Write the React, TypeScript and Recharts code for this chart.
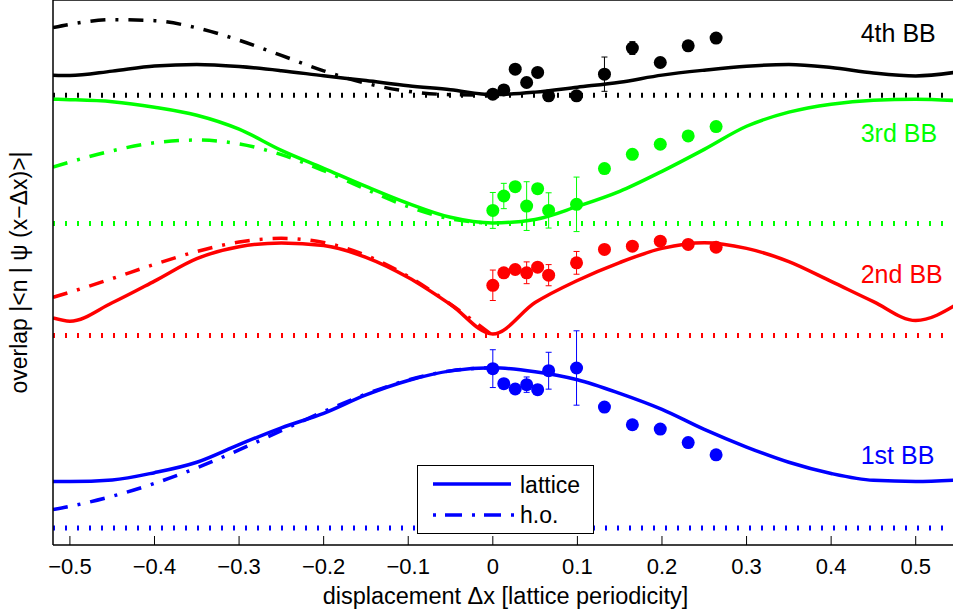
import React from 'react'
import {
    ComposedChart,
    Line,
    Scatter,
    ErrorBar,
    XAxis,
    YAxis,
    ReferenceLine,
    ReferenceDot,
    Legend,
} from 'recharts'

document.body.style.margin = '0'

const FONT = '"Liberation Sans", Arial, Helvetica, sans-serif'

// displacement grid for the theory curves (lattice periods)
const xGrid = [-0.52, -0.5, -0.45, -0.4, -0.35, -0.3, -0.25, -0.2, -0.15, -0.1, -0.05, 0,
    0.05, 0.1, 0.15, 0.2, 0.25, 0.3, 0.35, 0.4, 0.45, 0.5, 0.55]

// lattice overlaps, one list per Bloch band
const lattice1 = [0.29, 0.29, 0.3, 0.345, 0.41, 0.52, 0.625, 0.715, 0.83, 0.92, 0.98, 1.0,
    0.975, 0.925, 0.84, 0.74, 0.615, 0.505, 0.41, 0.34, 0.297, 0.29, 0.3]
const lattice2 = [0.11, 0.09, 0.205, 0.34, 0.48, 0.555, 0.578, 0.562, 0.488, 0.362, 0.194, 0.01,
    0.206, 0.344, 0.456, 0.544, 0.58, 0.544, 0.462, 0.338, 0.212, 0.094, 0.2]
const lattice3 = [0.775, 0.772, 0.759, 0.725, 0.675, 0.588, 0.456, 0.344, 0.231, 0.125, 0.038, 0.003,
    0.025, 0.106, 0.2, 0.325, 0.462, 0.606, 0.694, 0.744, 0.769, 0.775, 0.766]
const lattice4 = [0.125, 0.122, 0.15, 0.182, 0.192, 0.179, 0.153, 0.121, 0.091, 0.059, 0.034, 0.003,
    0.019, 0.05, 0.081, 0.125, 0.156, 0.181, 0.191, 0.172, 0.138, 0.12, 0.145]

// harmonic oscillator overlaps (only drawn for negative displacement)
const hoGrid = [-0.52, -0.5, -0.45, -0.4, -0.35, -0.3, -0.25, -0.2, -0.15, -0.1, -0.05, 0]
const ho1 = [0.115, 0.135, 0.198, 0.278, 0.375, 0.487, 0.607, 0.726, 0.835, 0.923, 0.98, 1.0]
const ho2 = [0.239, 0.271, 0.356, 0.445, 0.525, 0.584, 0.607, 0.581, 0.501, 0.369, 0.196, 0]
const ho3 = [0.352, 0.383, 0.453, 0.503, 0.52, 0.496, 0.429, 0.329, 0.213, 0.104, 0.028, 0]
const ho4 = [0.422, 0.442, 0.471, 0.465, 0.42, 0.343, 0.248, 0.152, 0.074, 0.024, 0.003, 0]

// measurements
const xMeas = [0, 0.013, 0.0265, 0.04, 0.053, 0.066, 0.099, 0.132, 0.165, 0.198, 0.231, 0.264]
const meas1 = [0.994, 0.9, 0.867, 0.894, 0.8625, 0.981, 0.998, 0.754, 0.644, 0.617, 0.533, 0.456]
const err1 = [0.118, 0, 0, 0.048, 0, 0.115, 0.232, 0, 0, 0, 0, 0]
const meas2 = [0.314, 0.392, 0.4125, 0.392, 0.427, 0.377, 0.454, 0.5375, 0.558, 0.589, 0.569, 0.552]
const err2 = [0.095, 0, 0, 0.068, 0, 0.066, 0.071, 0, 0, 0, 0, 0]
const meas3 = [0.081, 0.171, 0.229, 0.108, 0.217, 0.081, 0.119, 0.342, 0.431, 0.494, 0.546, 0.604]
const err3 = [0.112, 0.079, 0, 0.152, 0, 0.11, 0.17, 0, 0, 0, 0, 0]
const meas4 = [0.006, 0.033, 0.1625, 0.079, 0.142, -0.004, -0.004, 0.131, 0.294, 0.204, 0.308, 0.356]
const err4 = [0, 0, 0, 0, 0, 0, 0, 0.107, 0.04, 0, 0, 0]

const bandNames = ['1st BB', '2nd BB', '3rd BB', '4th BB']
const bandOffsets = [0, 1.2, 1.9, 2.7]
const bandColors = ['#0000ff', '#ff0000', '#00ff00', '#000000']
const bandLabelY = [0.453, 1.581, 2.466, 3.0875]

const xTicks = [-0.5, -0.4, -0.3, -0.2, -0.1, 0, 0.1, 0.2, 0.3, 0.4, 0.5]
const yTicks = [0, 0.5, 1, 1.5, 2, 2.5, 3]
const xDomain = [-0.52, 0.55]
const yDomain = [-0.10625, 3.29375]

const lattice = [lattice1, lattice2, lattice3, lattice4]
const ho = [ho1, ho2, ho3, ho4]
const meas = [meas1, meas2, meas3, meas4]
const errs = [err1, err2, err3, err4]

const latticeRows = xGrid.map((x, i) => {
    const row: any = { x }
    lattice.forEach((s, b) => { row['b' + b] = s[i] + bandOffsets[b] })
    return row
})
const hoRows = hoGrid.map((x, i) => {
    const row: any = { x }
    ho.forEach((s, b) => { row['b' + b] = s[i] + bandOffsets[b] })
    return row
})
const measRows = meas.map((s, b) => s.map((v, i) => ({ x: xMeas[i], y: v + bandOffsets[b], err: errs[b][i] })))

const fmtX = (v: number) => (v === 0 ? '0' : (v < 0 ? '\u2212' : '') + Math.abs(v).toFixed(1))

const renderBottomTick = (props: any) => {
    const { x, y, payload } = props
    return (
        <g>
            <line x1={x} x2={x} y1={y} y2={y - 9} stroke="#000" strokeWidth={1} />
            <text x={x} y={y + 29} textAnchor="middle" fontSize={22} fill="#000">{fmtX(payload.value)}</text>
        </g>
    )
}

const renderXTitle = (props: any) => {
    const vb = props.viewBox
    return (
        <text x={vb.x + vb.width / 2} y={vb.y + 59} textAnchor="middle" fontSize={23.5} fill="#000">
            {'displacement \u0394x [lattice periodicity]'}
        </text>
    )
}

const renderYTitle = (props: any) => {
    const vb = props.viewBox
    const cy = vb.y + vb.height / 2
    return (
        <text transform={`translate(27, ${cy}) rotate(-90)`} textAnchor="middle" fontSize={23} fill="#000">
            {'overlap |<n | \u03c8 (x\u2212\u0394x)>|'}
        </text>
    )
}

const renderLegend = () => (
    <svg width={177} height={69} style={{ display: 'block' }}>
        <rect x={0.5} y={0.5} width={176} height={68} fill="#fff" stroke="#000" strokeWidth={1} />
        <line x1={16} x2={94} y1={19} y2={19} stroke="#0000ff" strokeWidth={3.5} />
        <text x={103} y={28} fontSize={23} fill="#000" fontFamily={FONT}>lattice</text>
        <line x1={16} x2={97} y1={50} y2={50} stroke="#0000ff" strokeWidth={3.5} strokeDasharray="3 9 17 10" />
        <text x={103} y={58} fontSize={23} fill="#000" fontFamily={FONT}>h.o.</text>
    </svg>
)

const dotShape = (color: string) => (p: any) => <circle cx={p.cx} cy={p.cy} r={6.5} fill={color} />

export default function App() {
    return (
        <div style={{ width: 953, height: 616, overflow: 'hidden', position: 'relative', fontFamily: FONT }}>
            <ComposedChart width={960} height={616} margin={{ top: 0, right: 2, bottom: 70, left: 53 }}>
                <XAxis
                    dataKey="x"
                    type="number"
                    domain={xDomain}
                    allowDataOverflow
                    ticks={xTicks}
                    interval={0}
                    height={1}
                    tickSize={0}
                    tickMargin={0}
                    tickLine={false}
                    tick={renderBottomTick}
                    axisLine={{ stroke: '#000', strokeWidth: 1.5 }}
                    label={{ content: renderXTitle }}
                />
                <XAxis
                    xAxisId="top"
                    orientation="top"
                    dataKey="x"
                    type="number"
                    domain={xDomain}
                    allowDataOverflow
                    ticks={xTicks}
                    interval={0}
                    height={1}
                    mirror
                    tick={false}
                    tickSize={8}
                    tickLine={{ stroke: '#000' }}
                    axisLine={{ stroke: '#000', strokeWidth: 1.5 }}
                />
                <YAxis
                    type="number"
                    domain={yDomain}
                    allowDataOverflow
                    ticks={yTicks}
                    interval={0}
                    width={1}
                    mirror
                    tick={false}
                    tickSize={9}
                    tickLine={{ stroke: '#000' }}
                    axisLine={{ stroke: '#000', strokeWidth: 1.5 }}
                    label={{ content: renderYTitle }}
                />
                <YAxis
                    yAxisId="right"
                    orientation="right"
                    type="number"
                    domain={yDomain}
                    allowDataOverflow
                    ticks={yTicks}
                    interval={0}
                    width={1}
                    mirror
                    tick={false}
                    tickSize={9}
                    tickLine={{ stroke: '#000' }}
                    axisLine={{ stroke: '#000', strokeWidth: 1.5 }}
                />

                {bandOffsets.map((off, b) => (
                    <ReferenceLine key={'base' + b} y={off} stroke={bandColors[b]} strokeWidth={5} strokeDasharray="2 10" />
                ))}

                {ho.map((_, b) => (
                    <Line
                        key={'ho' + b}
                        data={hoRows}
                        dataKey={'b' + b}
                        type="monotone"
                        stroke={bandColors[b]}
                        strokeWidth={3.5}
                        strokeDasharray="15 10 3 10"
                        dot={false}
                        activeDot={false}
                        isAnimationActive={false}
                    />
                ))}
                {lattice.map((_, b) => (
                    <Line
                        key={'lat' + b}
                        data={latticeRows}
                        dataKey={'b' + b}
                        type="monotone"
                        stroke={bandColors[b]}
                        strokeWidth={3.5}
                        dot={false}
                        activeDot={false}
                        isAnimationActive={false}
                    />
                ))}
                {measRows.map((rows, b) => (
                    <Scatter key={'m' + b} data={rows} dataKey="y" shape={dotShape(bandColors[b])} isAnimationActive={false}>
                        <ErrorBar dataKey="err" direction="y" width={3} stroke={bandColors[b]} strokeWidth={1} />
                    </Scatter>
                ))}

                {bandNames.map((name, b) => (
                    <ReferenceDot
                        key={'lbl' + b}
                        x={0.435}
                        y={bandLabelY[b]}
                        r={0}
                        fill="none"
                        stroke="none"
                        label={{ value: name, position: 'right', offset: 0, fill: bandColors[b], fontSize: 25 }}
                    />
                ))}

                <Legend
                    layout="vertical"
                    align="center"
                    verticalAlign="middle"
                    wrapperStyle={{ left: 417, top: 465, width: 177, height: 69 }}
                    content={renderLegend}
                />
            </ComposedChart>
        </div>
    )
}
